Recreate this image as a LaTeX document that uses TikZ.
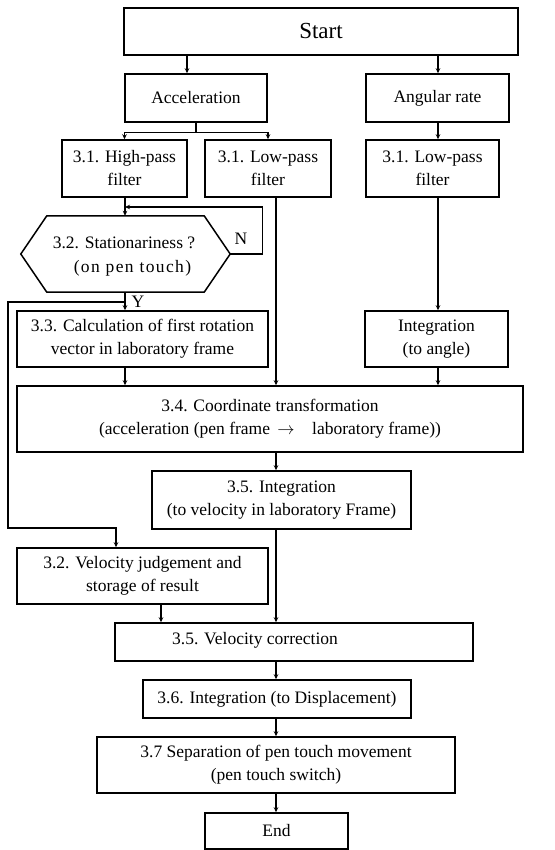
\documentclass[tikz,border=0pt]{standalone}
\usepackage{fontspec}
\setmainfont{Liberation Serif}
\newfontfamily\wideserif[LetterSpace=8]{Liberation Serif}
\usetikzlibrary{arrows.meta,calc}
\newcommand\mysz{\fontsize{17.5}{23}\selectfont}
\begin{document}
\begin{tikzpicture}[x=1pt,y=-1pt,
  box/.style={draw, line width=1.5pt, align=center, inner sep=0pt, font=\mysz},
  txt/.style={align=center, inner sep=0pt, font=\mysz},
  ln/.style={line width=1.2pt},
  arr/.style={line width=1.2pt, -{Stealth[length=5pt,width=4.5pt]}}]
\useasboundingbox (0,0) rectangle (554,850);
% columns
\coordinate (cA) at (187,0);
\coordinate (cB) at (438,0);
\coordinate (cH) at (125,0);
\coordinate (cM) at (276,0);
\coordinate (cV) at (116,0);
\coordinate (cW) at (161,0);
% nodes
\node[box, minimum width=394pt, minimum height=47pt, font=\fontsize{23}{27}\selectfont] (S) at (321,31.5) {Start};
\node[box, minimum width=142pt, minimum height=48pt] (Acc) at (196,98) {Acceleration};
\node[box, minimum width=143pt, minimum height=48pt] (Ang) at (437.5,98) {Angular rate};
\node[box, minimum width=125pt, minimum height=57pt] (HP) at (124.5,168.5) {3.1. High-pass\\filter};
\node[box, minimum width=126pt, minimum height=57pt] (LP1) at (268,168.5) {3.1. Low-pass\\filter};
\node[box, minimum width=133pt, minimum height=57pt] (LP2) at (432.5,168.5) {3.1. Low-pass\\filter};
\node[txt, minimum width=209pt, minimum height=76pt] (Hex) at (125.5,254) {};
\draw[line width=1.5pt] ([xshift=26pt]Hex.north west) -- ([xshift=-26pt]Hex.north east) -- (Hex.east)
  -- ([xshift=-26pt]Hex.south east) -- ([xshift=26pt]Hex.south west) -- (Hex.west) -- cycle;
\node[txt] (HexA) at (124,243) {3.2. Stationariness ?};
\node[txt] (HexB) at (132.5,268) {\wideserif(on pen touch)};
\node[box, minimum width=251pt, minimum height=56pt] (C33) at (142.5,339) {3.3. Calculation of first rotation\\vector in laboratory frame};
\node[box, minimum width=143pt, minimum height=56pt] (Int) at (436.5,339) {Integration\\(to angle)};
\node[box, minimum width=506pt, minimum height=66pt] (T34) at (270,419) {3.4. Coordinate transformation\\(acceleration (pen frame \,$\rightarrow$\quad laboratory frame))};
\node[box, minimum width=259pt, minimum height=58pt] (I35) at (281.5,500) {3.5. Integration\\(to velocity in laboratory Frame)};
\node[box, minimum width=251pt, minimum height=56pt] (V32) at (142.5,576) {3.2. Velocity judgement and\\storage of result};
\node[box, minimum width=358pt, minimum height=38pt] (VC) at (294,642) {};
\node[txt] (VCt) at (255,640) {3.5. Velocity correction};
\node[box, minimum width=268pt, minimum height=38pt] (D36) at (277,699) {3.6. Integration (to Displacement)};
\node[box, minimum width=358pt, minimum height=56pt] (S37) at (276,765) {3.7 Separation of pen touch movement\\(pen touch switch)};
\node[box, minimum width=143pt, minimum height=36pt] (End) at (276.5,831) {End};
\node[txt] (N) at (241,239) {N};
\node[txt] (Y) at (138,302) {Y};
% connectors
\draw[arr] (cA |- S.south) -- (cA |- Acc.north);
\draw[arr] (cB |- S.south) -- (cB |- Ang.north);
\draw[ln] (Acc.south) -- ++(0,10) coordinate (split);
\draw[arr] (split) -| (HP.north);
\draw[arr] (split) -| (LP1.north);
\draw[arr] (cB |- Ang.south) -- (cB |- LP2.north);
\draw[arr] (cH |- HP.south) -- (cH |- Hex.north);
\coordinate (loop) at (125,207);
\draw[arr] (Hex.east) -- ++(32,0) |- (loop);
\draw[arr] (cH |- Hex.south) -- (cH |- C33.north);
\coordinate (yj) at (125,302);
\coordinate (lx) at (8,302);
\coordinate (lc) at (8,528);
\draw[arr] (yj) -- (lx) -- (lc) -| (cV |- V32.north);
\draw[arr] (cB |- LP2.south) -- (cB |- Int.north);
\draw[arr] (cH |- C33.south) -- (cH |- T34.north);
\draw[arr] (cM |- LP1.south) -- (cM |- T34.north);
\draw[arr] (cB |- Int.south) -- (cB |- T34.north);
\draw[arr] (cM |- T34.south) -- (cM |- I35.north);
\draw[arr] (cM |- I35.south) -- (cM |- VC.north);
\draw[arr] (cW |- V32.south) -- (cW |- VC.north);
\draw[arr] (cM |- VC.south) -- (cM |- D36.north);
\draw[arr] (cM |- D36.south) -- (cM |- S37.north);
\draw[arr] (cM |- S37.south) -- (cM |- End.north);
\end{tikzpicture}
\end{document}
